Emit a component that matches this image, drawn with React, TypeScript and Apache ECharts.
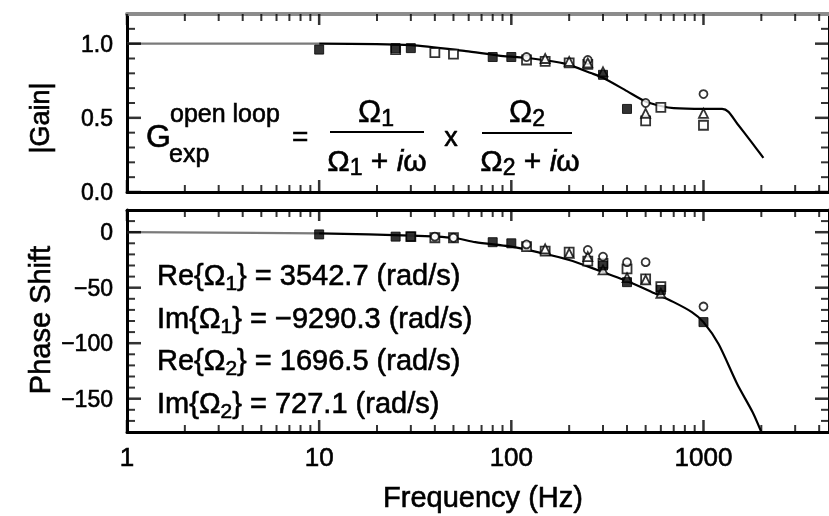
import React, { useEffect, useRef } from 'react';
import * as echarts from 'echarts';

// ---------- data ----------
const freqMin = 1;
const freqMax = 4500;
const freqMajorTicks = [1, 10, 100, 1000];
const freqMinorTicks = [2, 3, 4, 5, 6, 7, 8, 9, 20, 30, 40, 50, 60, 70, 80, 90, 200, 300, 400, 500, 600, 700, 800, 900, 2000, 3000, 4000];

const gainMin = 0;
const gainMax = 1.2;
const gainStep = 0.1;
const gainMajorTicks = [0, 0.5, 1.0];
const gainMinorTicks = [0.1, 0.2, 0.3, 0.4, 0.6, 0.7, 0.8, 0.9, 1.1];
const phaseMin = -180;
const phaseMax = 20;
const phaseStep = 10;
const phaseMajorTicks = [-150, -100, -50, 0];
const phaseMinorTicks = [-170, -160, -140, -130, -120, -110, -90, -80, -70, -60, -40, -30, -20, -10, 10];

// model curves
const gainCurveLowF = [1, 10];
const gainCurveLow = [1.0, 1.0];
const gainCurveF = [10, 30, 58, 86, 128, 190, 262, 300, 400, 500, 600, 700, 1000, 1250, 1350, 1500, 1770, 2050];
const gainCurve = [1.0, 0.99, 0.95, 0.92, 0.9, 0.865, 0.8, 0.77, 0.68, 0.61, 0.58, 0.565, 0.56, 0.56, 0.54, 0.46, 0.34, 0.23];

const phaseCurveLowF = [1, 10];
const phaseCurveLow = [0, -1];
const phaseCurveF = [10, 30, 50, 65, 100, 130, 200, 280, 400, 540, 700, 870, 1000, 1200, 1500, 1800, 2000];
const phaseCurve = [-1, -3, -5, -9, -13, -17, -25, -34, -44, -54, -63, -72, -81, -101, -137, -162, -180];

// measured points
const gainFilledF = [10, 25, 30, 80, 100, 300, 400];
const gainFilled = [0.96, 0.97, 0.97, 0.91, 0.91, 0.79, 0.56];
const gainSquareF = [25, 40, 50, 120, 150, 200, 250, 500, 600, 1000];
const gainSquare = [0.96, 0.94, 0.93, 0.89, 0.88, 0.87, 0.86, 0.48, 0.57, 0.45];
const gainCircleF = [120, 250, 500, 1000];
const gainCircle = [0.91, 0.89, 0.6, 0.66];
const gainTriF = [150, 200, 250, 300, 500, 1000];
const gainTri = [0.9, 0.88, 0.87, 0.81, 0.53, 0.53];

const phaseFilledF = [10, 25, 30, 80, 100, 300, 400, 600, 1000];
const phaseFilled = [-2, -4, -4, -9, -10, -30, -45, -52, -81];
const phaseSquareF = [30, 40, 50, 120, 150, 200, 250, 300, 400, 500, 600];
const phaseSquare = [-4, -5, -5, -13, -17, -18, -26, -28, -33, -42, -49];
const phaseCircleF = [40, 50, 120, 250, 300, 400, 500, 1000];
const phaseCircle = [-4, -5, -11, -16, -22, -27, -27, -67];
const phaseTriF = [150, 200, 250, 300, 400, 500, 600];
const phaseTri = [-15, -19, -22, -34, -41, -43, -55];

const paramLines = [
  ['Re{Ω', '1', '} = 3542.7 (rad/s)'],
  ['Im{Ω', '1', '} = \u22129290.3 (rad/s)'],
  ['Re{Ω', '2', '} = 1696.5 (rad/s)'],
  ['Im{Ω', '2', '} = 727.1 (rad/s)'],
];

// ---------- helpers ----------
const FONT = '"Liberation Sans", Arial, Helvetica, sans-serif';
const zip = (f: number[], v: number[]) => f.map((x, i) => [x, v[i]]);
const atY = (f: number[], y: number) => f.map((x) => [x, y]);
const atX = (v: number[], x: number) => v.map((y) => [x, y]);
const heavy = { textBorderColor: '#000', textBorderWidth: 0.6 };
const isMajor = (v: number, major: number[]) => major.some((m) => Math.abs(m - v) < 1e-6);

function xAxesFor(g: number, withLabels: boolean, topColor: string, topWidth: number) {
  const base = { type: 'log', gridIndex: g, min: freqMin, max: freqMax, splitLine: { show: false } };
  return [
    {
      ...base,
      position: 'bottom',
      axisLine: { show: true, onZero: false, lineStyle: { color: '#000', width: 3 } },
      axisTick: { show: false },
      axisLabel: {
        show: withLabels,
        showMaxLabel: false,
        margin: 12,
        fontSize: 26,
        fontFamily: FONT,
        color: '#000',
        ...heavy,
        formatter: (v: number) => String(Math.round(v)),
      },
    },
    {
      ...base,
      position: 'top',
      axisLine: { show: true, onZero: false, lineStyle: { color: topColor, width: topWidth } },
      axisTick: { show: false },
      axisLabel: { show: false },
    },
  ];
}

function yAxesFor(g: number, min: number, max: number, step: number, major: number[], fmt: (v: number) => string) {
  const base = { type: 'value', gridIndex: g, min, max, interval: step, splitLine: { show: false } };
  return [
    {
      ...base,
      position: 'left',
      axisLine: { show: true, onZero: false, lineStyle: { color: '#000', width: 3 } },
      axisTick: { show: false },
      axisLabel: {
        show: true,
        margin: 14,
        fontSize: 23,
        fontFamily: FONT,
        color: '#000',
        ...heavy,
        formatter: (v: number) => (isMajor(v, major) ? fmt(v) : ''),
      },
    },
    {
      ...base,
      position: 'right',
      axisLine: { show: true, onZero: false, lineStyle: { color: '#000', width: 3 } },
      axisTick: { show: false },
      axisLabel: { show: false },
    },
  ];
}

// tick marks: thin rect symbols placed through the axes' own scales
function tickSeries(xi: number, yi: number, data: number[][], w: number, h: number, ox: number, oy: number) {
  return {
    type: 'scatter',
    xAxisIndex: xi,
    yAxisIndex: yi,
    data,
    symbol: 'rect',
    symbolSize: [w, h],
    symbolOffset: [ox, oy],
    clip: false,
    silent: true,
    z: 6,
    itemStyle: { color: '#000', borderWidth: 0 },
  };
}

function ticksFor(xi: number, yi: number, yMin: number, yMax: number, yMajor: number[], yMinor: number[]) {
  return [
    tickSeries(xi, yi, atY(freqMajorTicks, yMin), 2.5, 12, 0, -6),
    tickSeries(xi, yi, atY(freqMinorTicks, yMin), 2, 7, 0, -3.5),
    tickSeries(xi, yi, atY(freqMajorTicks, yMax), 2.5, 11, 0, 5.5),
    tickSeries(xi, yi, atY(freqMinorTicks, yMax), 2, 7, 0, 3.5),
    tickSeries(xi, yi, atX(yMajor, freqMin), 14, 2.5, 7, 0),
    tickSeries(xi, yi, atX(yMinor, freqMin), 8, 2, 4, 0),
    tickSeries(xi, yi, atX(yMajor, freqMax), 14, 2.5, -7, 0),
    tickSeries(xi, yi, atX(yMinor, freqMax), 8, 2, -4, 0),
  ];
}

function markerSeries(xi: number, yi: number, data: number[][], kind: string) {
  const filled = kind === 'filled';
  const symbol = kind === 'circle' ? 'circle' : kind === 'tri' ? 'triangle' : 'rect';
  const size = kind === 'circle' ? 8 : 9;
  return {
    type: 'scatter',
    xAxisIndex: xi,
    yAxisIndex: yi,
    data,
    symbol,
    symbolSize: size,
    z: 5,
    itemStyle: filled
      ? { color: '#000', borderColor: '#000', borderWidth: 1 }
      : { color: '#fff', borderColor: '#000', borderWidth: 1.8 },
  };
}

function curveSeries(xi: number, yi: number, data: number[][], color: string) {
  return {
    type: 'line',
    xAxisIndex: xi,
    yAxisIndex: yi,
    data,
    showSymbol: false,
    symbol: 'none',
    smooth: 0.25,
    z: 3,
    lineStyle: { color, width: 2.2 },
  };
}

function txt(x: number, y: number, text: string, size: number, extra: any = {}) {
  return {
    type: 'text',
    x,
    y,
    z: 10,
    style: {
      text,
      fontSize: size,
      fontFamily: FONT,
      fill: '#000',
      stroke: '#000',
      lineWidth: 0.6,
      align: 'left',
      verticalAlign: 'middle',
      ...extra,
    },
  };
}

const subRich = (size: number, base: number) => ({
  s: { fontSize: size, fontFamily: FONT, fill: '#000', stroke: '#000', lineWidth: 0.6, lineHeight: size, verticalAlign: 'bottom' },
  i: { fontSize: base, fontFamily: FONT, fontStyle: 'italic', fill: '#000', stroke: '#000', lineWidth: 0.6 },
});

export default function App() {
  const ref = useRef<HTMLDivElement>(null);

  useEffect(() => {
    if (!ref.current) return;
    const chart = echarts.init(ref.current, undefined, { renderer: 'svg' });

    const graphic: any[] = [
      // axis titles
      { ...txt(40, 118, '|Gain|', 27, { align: 'center' }), rotation: Math.PI / 2 },
      { ...txt(40, 320, 'Phase Shift', 29, { align: 'center' }), rotation: Math.PI / 2 },
      txt(483, 497, 'Frequency (Hz)', 29, { align: 'center' }),
      // formula
      txt(146, 136, 'G', 32),
      txt(170, 113, 'open loop', 25),
      txt(169, 153, 'exp', 25),
      txt(292, 136, '=', 28),
      txt(376, 111, 'Ω{s|1}', 31, { align: 'center', lineHeight: 36, rich: subRich(23, 31) }),
      { type: 'line', z: 10, shape: { x1: 330, y1: 132, x2: 424, y2: 132 }, style: { stroke: '#000', lineWidth: 2.2 } },
      txt(377, 160, 'Ω{s|1} + {i|i}ω', 30, { align: 'center', lineHeight: 36, rich: subRich(23, 30) }),
      txt(451, 137, 'x', 27, { align: 'center' }),
      txt(527, 111, 'Ω{s|2}', 31, { align: 'center', lineHeight: 36, rich: subRich(23, 31) }),
      { type: 'line', z: 10, shape: { x1: 482, y1: 133, x2: 572, y2: 133 }, style: { stroke: '#000', lineWidth: 2.2 } },
      txt(530, 160, 'Ω{s|2} + {i|i}ω', 30, { align: 'center', lineHeight: 36, rich: subRich(23, 30) }),
    ];
    const rowY = [275, 318, 360, 403];
    paramLines.forEach((p, k) => {
      graphic.push(txt(157, rowY[k], `${p[0]}{s|${p[1]}}${p[2]}`, 29, { lineHeight: 36, rich: subRich(21, 29) }));
    });

    const option: any = {
      animation: false,
      grid: [
        { left: 127, top: 14, width: 704, height: 178 },
        { left: 127, top: 210, width: 704, height: 222 },
      ],
      xAxis: [...xAxesFor(0, false, '#8c8c8c', 4), ...xAxesFor(1, true, '#000', 3)],
      yAxis: [
        ...yAxesFor(0, gainMin, gainMax, gainStep, gainMajorTicks, (v: number) => v.toFixed(1)),
        ...yAxesFor(1, phaseMin, phaseMax, phaseStep, phaseMajorTicks, (v: number) => String(Math.round(v)).replace('-', '\u2212')),
      ],
      series: [
        curveSeries(0, 0, zip(gainCurveLowF, gainCurveLow), '#7a7a7a'),
        curveSeries(0, 0, zip(gainCurveF, gainCurve), '#000'),
        markerSeries(0, 0, zip(gainSquareF, gainSquare), 'square'),
        markerSeries(0, 0, zip(gainCircleF, gainCircle), 'circle'),
        markerSeries(0, 0, zip(gainTriF, gainTri), 'tri'),
        markerSeries(0, 0, zip(gainFilledF, gainFilled), 'filled'),
        curveSeries(2, 2, zip(phaseCurveLowF, phaseCurveLow), '#7a7a7a'),
        curveSeries(2, 2, zip(phaseCurveF, phaseCurve), '#000'),
        markerSeries(2, 2, zip(phaseSquareF, phaseSquare), 'square'),
        markerSeries(2, 2, zip(phaseCircleF, phaseCircle), 'circle'),
        markerSeries(2, 2, zip(phaseTriF, phaseTri), 'tri'),
        markerSeries(2, 2, zip(phaseFilledF, phaseFilled), 'filled'),
        ...ticksFor(0, 0, gainMin, gainMax, gainMajorTicks, gainMinorTicks),
        ...ticksFor(2, 2, phaseMin, phaseMax, phaseMajorTicks, phaseMinorTicks),
      ],
      graphic,
    };
    chart.setOption(option);
    return () => chart.dispose();
  }, []);

  return <div ref={ref} style={{ position: 'fixed', left: 0, top: 0, width: 829, height: 516 }} />;
}
